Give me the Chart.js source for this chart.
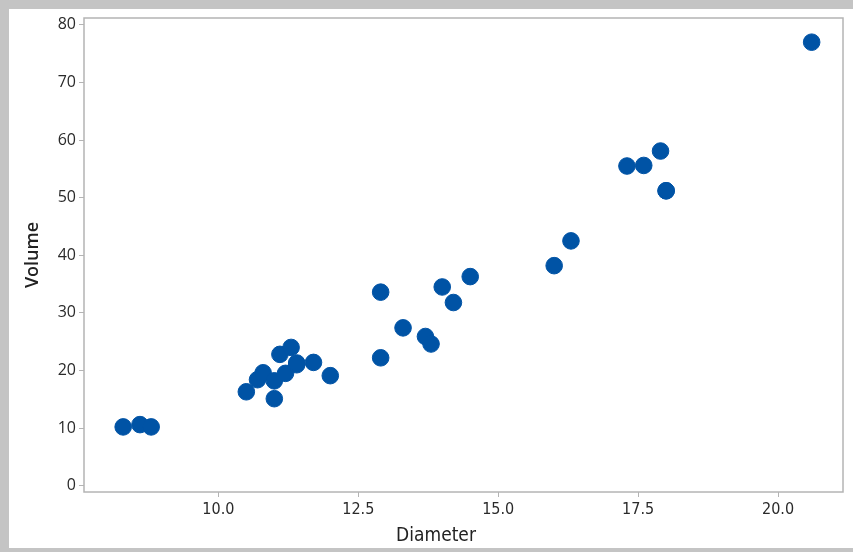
<!DOCTYPE html>
<html>
<head>
<meta charset="utf-8">
<script src="https://cdn.jsdelivr.net/npm/chart.js@4"></script>
<style>
  html, body { margin: 0; padding: 0; background: #fff; }
  #wrap { position: relative; width: 853px; height: 552px; }
</style>
</head>
<body>
<div id="wrap"><canvas id="scatter" width="853" height="552"></canvas></div>
<script>
// diameter vs volume
const diameter = [8.3, 8.6, 8.8, 10.5, 10.7, 10.8, 11.0, 11.0, 11.1, 11.2, 11.3, 11.4, 11.4, 11.7, 12.0,
  12.9, 12.9, 13.3, 13.7, 13.8, 14.0, 14.2, 14.5, 16.0, 16.3, 17.3, 17.6, 17.9, 18.0, 18.0, 20.6];
const volume = [10.2, 10.6, 10.2, 16.3, 18.4, 19.6, 15.1, 18.2, 22.8, 19.5, 24.0, 21.0, 21.3, 21.4, 19.1,
  33.6, 22.2, 27.4, 25.9, 24.6, 34.5, 31.8, 36.3, 38.2, 42.5, 55.5, 55.6, 58.1, 51.2, 51.2, 77.0];
const xTicks = [10.0, 12.5, 15.0, 17.5, 20.0];
const yTicks = [0, 10, 20, 30, 40, 50, 60, 70, 80];

const points = diameter.map((d, i) => ({ x: d, y: volume[i] }));

const narrow = '"Liberation Sans Narrow", "DejaVu Sans Condensed", sans-serif';

const frame = {
  id: 'frame',
  beforeDraw(chart) {
    const c = chart.ctx;
    c.save();
    c.fillStyle = '#c4c4c4';
    c.fillRect(0, 0, 853, 9);
    c.fillRect(0, 0, 9, 552);
    c.fillRect(0, 548, 853, 4);
    c.restore();
  },
  afterDraw(chart) {
    const a = chart.chartArea;
    const c = chart.ctx;
    c.save();
    c.strokeStyle = '#b4b4b4';
    c.lineWidth = 1.5;
    c.strokeRect(a.left, a.top, a.right - a.left, a.bottom - a.top);
    c.fillStyle = '#222';
    c.textAlign = 'center';
    c.textBaseline = 'middle';
    c.font = '19px ' + narrow;
    c.fillText('Diameter', 436, 536);
    c.translate(33, 255);
    c.rotate(-Math.PI / 2);
    c.font = '600 18px "Open Sans", sans-serif';
    c.fillText('Volume', 0, 0);
    c.restore();
  }
};

new Chart(document.getElementById('scatter'), {
  type: 'scatter',
  data: {
    datasets: [{
      data: points,
      backgroundColor: '#0053a5',
      borderColor: '#0053a5',
      pointRadius: 8.3,
      pointHoverRadius: 8.3
    }]
  },
  options: {
    responsive: false,
    animation: false,
    layout: { padding: { left: 10, top: 18, right: 10, bottom: 4 } },
    plugins: { legend: { display: false }, tooltip: { enabled: false } },
    scales: {
      x: {
        type: 'linear',
        min: 7.6,
        max: 21.16,
        afterBuildTicks: s => { s.ticks = xTicks.map(v => ({ value: v })); },
        afterFit: s => { s.height = 56; },
        border: { display: false },
        grid: { drawOnChartArea: false, drawTicks: true, tickLength: 5, color: '#b4b4b4' },
        ticks: {
          color: '#2a2a2a',
          padding: 3,
          font: { family: narrow, size: 16 },
          callback: v => v.toFixed(1)
        }
      },
      y: {
        type: 'linear',
        min: -1.1,
        max: 81.2,
        afterBuildTicks: s => { s.ticks = yTicks.map(v => ({ value: v })); },
        afterFit: s => { s.width = 74; },
        border: { display: false },
        grid: { drawOnChartArea: false, drawTicks: true, tickLength: 5, color: '#b4b4b4' },
        ticks: {
          color: '#2a2a2a',
          padding: 3,
          font: { family: '"Open Sans", sans-serif', size: 16 }
        }
      }
    }
  },
  plugins: [frame]
});
</script>
</body>
</html>
